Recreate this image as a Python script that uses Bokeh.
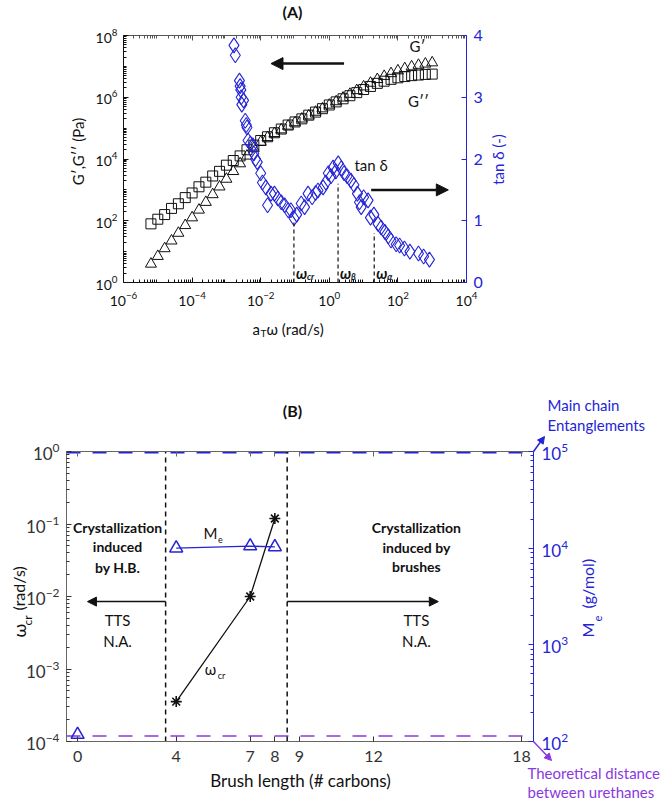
import numpy as np
from bokeh.plotting import figure
from bokeh.models import (Range1d, LinearScale, LogScale, LinearAxis, LogAxis, FixedTicker,
                          Label, Arrow, NormalHead)
from bokeh.layouts import column
from bokeh.embed import file_html
from bokeh.resources import INLINE

FONT = "Lato"
BLUE = "#2424d6"
PURPLE = "#8a38e0"
BLACK = "#111111"

# ---------------- Panel A data (log10 values) ----------------
log_omega = [-5.2, -5.0, -4.8, -4.6, -4.4, -4.2, -4.0, -3.8, -3.6, -3.4, -3.2, -3.0, -2.8, -2.6,
             -2.4, -2.2, -2.0, -1.8, -1.6, -1.4, -1.2, -1.0, -0.8, -0.6, -0.4, -0.2, 0.0, 0.2,
             0.4, 0.6, 0.8, 1.0, 1.2, 1.4, 1.6, 1.8, 2.0, 2.2, 2.4, 2.6, 2.8, 3.0]
log_G_loss = [1.9, 2.05, 2.2, 2.4, 2.55, 2.75, 2.9, 3.1, 3.25, 3.45, 3.6, 3.8, 3.95, 4.1,
              4.3, 4.45, 4.6, 4.72, 4.85, 4.97, 5.1, 5.2, 5.3, 5.42, 5.52, 5.63, 5.75, 5.85,
              5.95, 6.05, 6.15, 6.25, 6.35, 6.45, 6.52, 6.58, 6.63, 6.67, 6.7, 6.72, 6.74, 6.75]
log_G_storage = [0.6, 0.85, 1.1, 1.35, 1.6, 1.85, 2.1, 2.35, 2.6, 2.85, 3.1, 3.35, 3.6, 3.85,
                 4.1, 4.35, 4.55, 4.7, 4.83, 4.95, 5.07, 5.18, 5.3, 5.4, 5.52, 5.63, 5.75, 5.86,
                 5.98, 6.1, 6.22, 6.34, 6.46, 6.58, 6.68, 6.77, 6.86, 6.93, 6.99, 7.04, 7.08, 7.12]
log_omega_tan = [-2.78, -2.74, -2.62, -2.6, -2.58, -2.57, -2.55, -2.5, -2.45, -2.42, -2.4, -2.37,
                 -2.3, -2.23, -2.2, -2.15, -2.1, -2.0, -1.95, -1.85, -1.8, -1.7, -1.6, -1.5, -1.4,
                 -1.3, -1.2, -1.12, -1.03, -0.95, -0.82, -0.72, -0.62, -0.5, -0.4, -0.33, -0.18,
                 -0.1, -0.03, 0.05, 0.11, 0.19, 0.26, 0.35, 0.43, 0.52, 0.63, 0.72, 0.82, 0.88,
                 0.93, 1.0, 1.13, 1.2, 1.3, 1.42, 1.51, 1.62, 1.72, 1.8, 1.95, 2.05, 2.19, 2.35,
                 2.6, 2.75, 2.92]
tan_delta = [3.84, 3.68, 3.27, 3.18, 3.12, 3.0, 2.88, 2.95, 2.62, 2.55, 2.51, 2.3, 2.25, 2.22,
             2.09, 2.0, 1.95, 1.77, 1.62, 1.54, 1.25, 1.44, 1.44, 1.36, 1.3, 1.25, 1.17, 1.17,
             1.04, 1.1, 1.28, 1.22, 1.44, 1.38, 1.45, 1.49, 1.54, 1.62, 1.77, 1.72, 1.86, 1.8,
             1.93, 1.85, 1.77, 1.72, 1.65, 1.58, 1.44, 1.3, 1.22, 1.38, 1.33, 1.05, 1.1, 0.95,
             0.89, 0.82, 0.75, 0.68, 0.62, 0.6, 0.55, 0.5, 0.47, 0.42, 0.37]
mark_names = ["cr", "β", "α"]
mark_omega = [0.093, 1.8, 20.4]
mark_tan = [1.0, 1.6, 0.8]

# ---------------- Panel B data ----------------
brush_len = [4, 7, 8]
omega_cr = [3.55e-4, 1.0e-2, 0.119]
me_brush = [4, 7, 8]
me_values = [1.0e4, 1.05e4, 1.03e4]
me_zero_brush = [0]
me_zero = [118]
me_entangle = 9.7e4
me_theory = 114
hb_boundary = 3.57
brush_boundary = 8.5
b_ticks = [0, 4, 7, 8, 9, 12, 18]

# ---------------- layout geometry (page pixels) ----------------
W = 666
HA, HB = 372, 427            # canvas heights (A on top of B)
BOX_A = dict(l=123, r=466, t=35, b=282)
BOX_B = dict(l=66, r=533, t=451 - HA, b=741 - HA)
XA_LIM, YA_LIM, TAN_LIM = (1e-6, 1e4), (1e0, 1e8), (0.0, 4.0)
XB_LIM, YB_LIM, ME_LIM = (-0.45, 18.49), (1e-4, 1e0), (1e2, 1e5)


def frame_range(lo, hi, px_lo, px_hi, total, log=False):
    a, b = (np.log10(lo), np.log10(hi)) if log else (lo, hi)
    per = (b - a) / (px_hi - px_lo)
    s, e = a - px_lo * per, b + (total - px_hi) * per
    return Range1d(10 ** s, 10 ** e) if log else Range1d(s, e)


def style_axis(ax, color, size, standoff):
    ax.axis_line_color = color
    ax.major_tick_line_color = color
    ax.minor_tick_line_color = color
    ax.major_label_text_color = color
    ax.major_tick_in = 5
    ax.major_tick_out = 0
    ax.minor_tick_in = 3
    ax.minor_tick_out = 0
    ax.major_label_text_font = FONT
    ax.major_label_text_font_size = f"{size}px"
    ax.major_label_standoff = standoff


def hide_labels(ax):
    ax.major_label_text_font_size = "1px"
    ax.major_label_text_alpha = 0


def make_fig(H, xr, yr, xlog, ylog):
    p = figure(width=W, height=H, x_axis_type=None, y_axis_type=None,
               x_range=xr, y_range=yr, output_backend="svg", toolbar_location=None,
               min_border=0, x_axis_location=None, y_axis_location=None)
    p.title.visible = False
    p.xgrid.visible = False
    p.ygrid.visible = False
    p.outline_line_color = None
    p.background_fill_color = "white"
    p.border_fill_color = "white"
    return p


def tlab(p, H, px, py, text, size, color=BLACK, style="normal", align="center",
         baseline="middle", angle=0.0):
    # text placed by page pixel position inside a canvas of height H
    p.add_layout(Label(x=px, y=H - py, x_units="screen", y_units="screen", text=text,
                       text_font=FONT, text_font_size=f"{size}px", text_color=color,
                       text_font_style=style, text_align=align, text_baseline=baseline,
                       angle=angle))


def dlab(p, x, y, text, size, color=BLACK, style="normal", **kw):
    p.add_layout(Label(x=x, y=y, text=text, text_font=FONT, text_font_size=f"{size}px",
                       text_color=color, text_font_style=style, text_align="center",
                       text_baseline="middle", **kw))


# ================= Panel A =================
xrA = frame_range(*XA_LIM, BOX_A["l"], BOX_A["r"], W, log=True)
yrA = frame_range(*YA_LIM, HA - BOX_A["b"], HA - BOX_A["t"], HA, log=True)
pA = figure(width=W, height=HA, x_axis_type="log", y_axis_type="log", x_range=xrA, y_range=yrA,
            output_backend="svg", toolbar_location=None, min_border=0,
            x_axis_location=None, y_axis_location=None)
pA.title.visible = False
pA.xgrid.visible = False
pA.ygrid.visible = False
pA.outline_line_color = None
tanr = frame_range(*TAN_LIM, HA - BOX_A["b"], HA - BOX_A["t"], HA)
pA.extra_y_ranges = {"tan": tanr}
pA.extra_y_scales = {"tan": LinearScale()}

x_major_A = [1e-6, 1e-4, 1e-2, 1e0, 1e2, 1e4]
x_minor_A = [k * 10.0 ** n for n in range(-6, 4) for k in range(2, 10)]
y_major_A = [1e0, 1e2, 1e4, 1e6, 1e8]
y_minor_A = [k * 10.0 ** n for n in range(0, 8) for k in range(1, 10)
             if not (k == 1 and n % 2 == 0)]

botA = LogAxis(ticker=FixedTicker(ticks=x_major_A, minor_ticks=x_minor_A),
               fixed_location=YA_LIM[0], bounds=XA_LIM)
style_axis(botA, BLACK, 14, 9)
pA.add_layout(botA, "below")
topA = LogAxis(ticker=FixedTicker(ticks=x_major_A, minor_ticks=x_minor_A),
               fixed_location=YA_LIM[1], bounds=XA_LIM)
style_axis(topA, "#555555", 14, 3)
hide_labels(topA)
pA.add_layout(topA, "above")
leftA = LogAxis(ticker=FixedTicker(ticks=y_major_A, minor_ticks=y_minor_A),
                fixed_location=XA_LIM[0], bounds=YA_LIM)
style_axis(leftA, BLACK, 14, 6)
pA.add_layout(leftA, "left")
rightA = LinearAxis(y_range_name="tan", ticker=FixedTicker(ticks=[0, 1, 2, 3, 4], minor_ticks=[]),
                    fixed_location=XA_LIM[1], bounds=TAN_LIM)
style_axis(rightA, BLUE, 16, 7)
pA.add_layout(rightA, "right")

w = 10.0 ** np.array(log_omega)
pA.scatter(w, 10.0 ** np.array(log_G_loss), marker="square", size=10, fill_color=None,
           line_color=BLACK, line_width=1)
pA.scatter(w, 10.0 ** np.array(log_G_storage), marker="triangle", size=11, fill_color=None,
           line_color=BLACK, line_width=1)
pA.scatter(10.0 ** np.array(log_omega_tan), tan_delta, y_range_name="tan", marker="diamond",
           size=15, fill_color=None, line_color=BLUE, line_width=1.1)
pA.segment(x0=mark_omega, y0=TAN_LIM[0], x1=mark_omega, y1=mark_tan, y_range_name="tan",
           line_color=BLACK, line_dash="4 3", line_width=1.2)
for name, om in zip(mark_names, mark_omega):
    pA.add_layout(Label(x=om, y=0.16, y_range_name="tan", text="ω", x_offset=2,
                        text_font=FONT, text_font_size="15px", text_font_style="bold italic",
                        text_color=BLACK, text_baseline="alphabetic"))
    pA.add_layout(Label(x=om, y=0.16, y_range_name="tan", text=name, x_offset=13, y_offset=-4,
                        text_font=FONT, text_font_size="9px", text_font_style="bold italic",
                        text_color=BLACK, text_baseline="alphabetic"))

pA.add_layout(Arrow(x_start=10 ** 0.43, y_start=10 ** 7.09, x_end=10 ** -1.7, y_end=10 ** 7.09,
                    line_width=2.5, line_color=BLACK,
                    end=NormalHead(size=12, fill_color=BLACK, line_color=BLACK)))
pA.add_layout(Arrow(x_start=10 ** 1.22, y_start=1.5, x_end=10 ** 3.47, y_end=1.5,
                    y_range_name="tan", line_width=2.5, line_color=BLACK,
                    end=NormalHead(size=12, fill_color=BLACK, line_color=BLACK)))
dlab(pA, 10 ** 2.57, 10 ** 7.67, "G′", 15)
dlab(pA, 10 ** 2.6, 10 ** 5.89, "G′′", 15)
dlab(pA, 10 ** 1.22, 1.9, "tan δ", 15, y_range_name="tan")

tlab(pA, HA, 292, 11, "(A)", 16, style="bold")
tlab(pA, HA, 77, 151, "G′,G′′ (Pa)", 15, angle=np.pi / 2)
tlab(pA, HA, 252, 328, "a", 15, align="left", baseline="alphabetic")
tlab(pA, HA, 260, 332, "T", 10, align="left", baseline="alphabetic")
tlab(pA, HA, 266, 328, "ω (rad/s)", 15, align="left", baseline="alphabetic")
tlab(pA, HA, 497, 159, "tan δ (-)", 15, color=BLUE, angle=np.pi / 2)

# ================= Panel B =================
xrB = frame_range(*XB_LIM, BOX_B["l"], BOX_B["r"], W)
yrB = frame_range(*YB_LIM, HB - BOX_B["b"], HB - BOX_B["t"], HB, log=True)
pB = figure(width=W, height=HB, y_axis_type="log", x_range=xrB, y_range=yrB,
            output_backend="svg", toolbar_location=None, min_border=0,
            x_axis_location=None, y_axis_location=None)
pB.title.visible = False
pB.xgrid.visible = False
pB.ygrid.visible = False
pB.outline_line_color = None
meR = frame_range(*ME_LIM, HB - BOX_B["b"], HB - BOX_B["t"], HB, log=True)
pB.extra_y_ranges = {"me": meR}
pB.extra_y_scales = {"me": LogScale()}

botB = LinearAxis(ticker=FixedTicker(ticks=b_ticks, minor_ticks=[]),
                  fixed_location=YB_LIM[0], bounds=XB_LIM)
style_axis(botB, "#333333", 16, 9)
botB.axis_line_color = "#666666"
pB.add_layout(botB, "below")
topB = LinearAxis(ticker=FixedTicker(ticks=b_ticks, minor_ticks=[]),
                  fixed_location=YB_LIM[1], bounds=XB_LIM)
style_axis(topB, "#666666", 16, 3)
hide_labels(topB)
pB.add_layout(topB, "above")
leftB = LogAxis(ticker=FixedTicker(ticks=[1e-4, 1e-3, 1e-2, 1e-1, 1e0],
                                   minor_ticks=[k * 10.0 ** n for n in range(-4, 0) for k in range(2, 10)]),
                fixed_location=XB_LIM[0], bounds=YB_LIM)
style_axis(leftB, "#333333", 17, 7)
leftB.axis_line_color = "#666666"
pB.add_layout(leftB, "left")
rightB = LogAxis(y_range_name="me",
                 ticker=FixedTicker(ticks=[1e2, 1e3, 1e4, 1e5],
                                    minor_ticks=[k * 10.0 ** n for n in range(2, 5) for k in range(2, 10)]),
                 fixed_location=XB_LIM[1], bounds=ME_LIM)
style_axis(rightB, BLUE, 17, 8)
pB.add_layout(rightB, "right")

pB.segment(x0=XB_LIM[0], y0=me_entangle, x1=XB_LIM[1], y1=me_entangle, y_range_name="me",
           line_color=BLUE, line_dash="14 12", line_width=1.6)
pB.segment(x0=XB_LIM[0], y0=me_theory, x1=XB_LIM[1], y1=me_theory, y_range_name="me",
           line_color=PURPLE, line_dash="14 12", line_width=1.6)
pB.segment(x0=[hb_boundary, brush_boundary], y0=YB_LIM[0], x1=[hb_boundary, brush_boundary],
           y1=YB_LIM[1], line_color=BLACK, line_dash="5 4", line_width=1.5)

pB.line(brush_len, omega_cr, line_color=BLACK, line_width=1.3)
pB.scatter(brush_len, omega_cr, marker="asterisk", size=11, line_color=BLACK, line_width=1.6)
pB.line(me_brush, me_values, y_range_name="me", line_color=BLUE, line_width=1.3)
pB.scatter(me_brush, me_values, y_range_name="me", marker="triangle", size=13,
           fill_color=None, line_color=BLUE, line_width=1.5)
pB.scatter(me_zero_brush, me_zero, y_range_name="me", marker="triangle", size=13,
           fill_color=None, line_color=BLUE, line_width=1.5)

pB.add_layout(Arrow(x_start=hb_boundary, y_start=8.5e-3, x_end=0.4, y_end=8.5e-3,
                    line_width=1.5, line_color=BLACK,
                    end=NormalHead(size=9, fill_color=BLACK, line_color=BLACK)))
pB.add_layout(Arrow(x_start=brush_boundary, y_start=8.5e-3, x_end=14.63, y_end=8.5e-3,
                    line_width=1.5, line_color=BLACK,
                    end=NormalHead(size=9, fill_color=BLACK, line_color=BLACK)))

for txt, yy in (("Crystallization", 10 ** -1.05), ("induced", 10 ** -1.31), ("by H.B.", 10 ** -1.6)):
    dlab(pB, 1.62, yy, txt, 14, style="bold")
for txt, yy in (("Crystallization", 10 ** -1.05), ("induced by", 10 ** -1.32), ("brushes", 10 ** -1.58)):
    dlab(pB, 13.74, yy, txt, 14, style="bold")
for xx in (1.62, 13.74):
    dlab(pB, xx, 10 ** -2.33, "TTS", 15)
    dlab(pB, xx, 10 ** -2.61, "N.A.", 15)

dlab(pB, 5.39, 10 ** -1.13, "M", 15)
dlab(pB, 5.39, 10 ** -1.13, "e", 9, x_offset=10, y_offset=-6)
dlab(pB, 5.39, 10 ** -3.0, "ω", 15)
dlab(pB, 5.39, 10 ** -3.0, "cr", 9, x_offset=11, y_offset=-6)

YB0 = HA  # page y of panel B canvas top
def tb(px, py, text, size, **kw):
    tlab(pB, HB, px, py - YB0, text, size, **kw)

tb(292, 410, "(B)", 16, style="bold")
tb(18, 637, "ω", 18, align="left", baseline="alphabetic", angle=np.pi / 2)
tb(27, 625, "cr", 12, align="left", baseline="alphabetic", angle=np.pi / 2)
tb(18, 610, "(rad/s)", 16, align="left", baseline="alphabetic", angle=np.pi / 2)
tb(587, 637, "M", 16, color=BLUE, align="left", baseline="alphabetic", angle=np.pi / 2)
tb(597, 621, "e", 11, color=BLUE, align="left", baseline="alphabetic", angle=np.pi / 2)
tb(587, 608, "(g/mol)", 16, color=BLUE, align="left", baseline="alphabetic", angle=np.pi / 2)
tb(300, 780, "Brush length (# carbons)", 17)
tb(547, 404, "Main chain", 15, color=BLUE, align="left")
tb(547, 424, "Entanglements", 15, color=BLUE, align="left")
tb(527, 772, "Theoretical distance", 15, color=PURPLE, align="left")
tb(527, 791, "between urethanes", 15, color=PURPLE, align="left")

pB.add_layout(Arrow(x_start=533, y_start=HB - (451 - YB0), x_end=544, y_end=HB - (436 - YB0),
                    start_units="screen", end_units="screen", line_color=BLUE, line_width=1.5,
                    end=NormalHead(size=7, fill_color=BLUE, line_color=BLUE)))
pB.add_layout(Arrow(x_start=533, y_start=HB - (741 - YB0), x_end=551, y_end=HB - (760 - YB0),
                    start_units="screen", end_units="screen", line_color=PURPLE, line_width=1.5,
                    end=NormalHead(size=7, fill_color=PURPLE, line_color=PURPLE)))

layout = column(pA, pB)
open("out.html", "w").write(file_html(layout, INLINE))
